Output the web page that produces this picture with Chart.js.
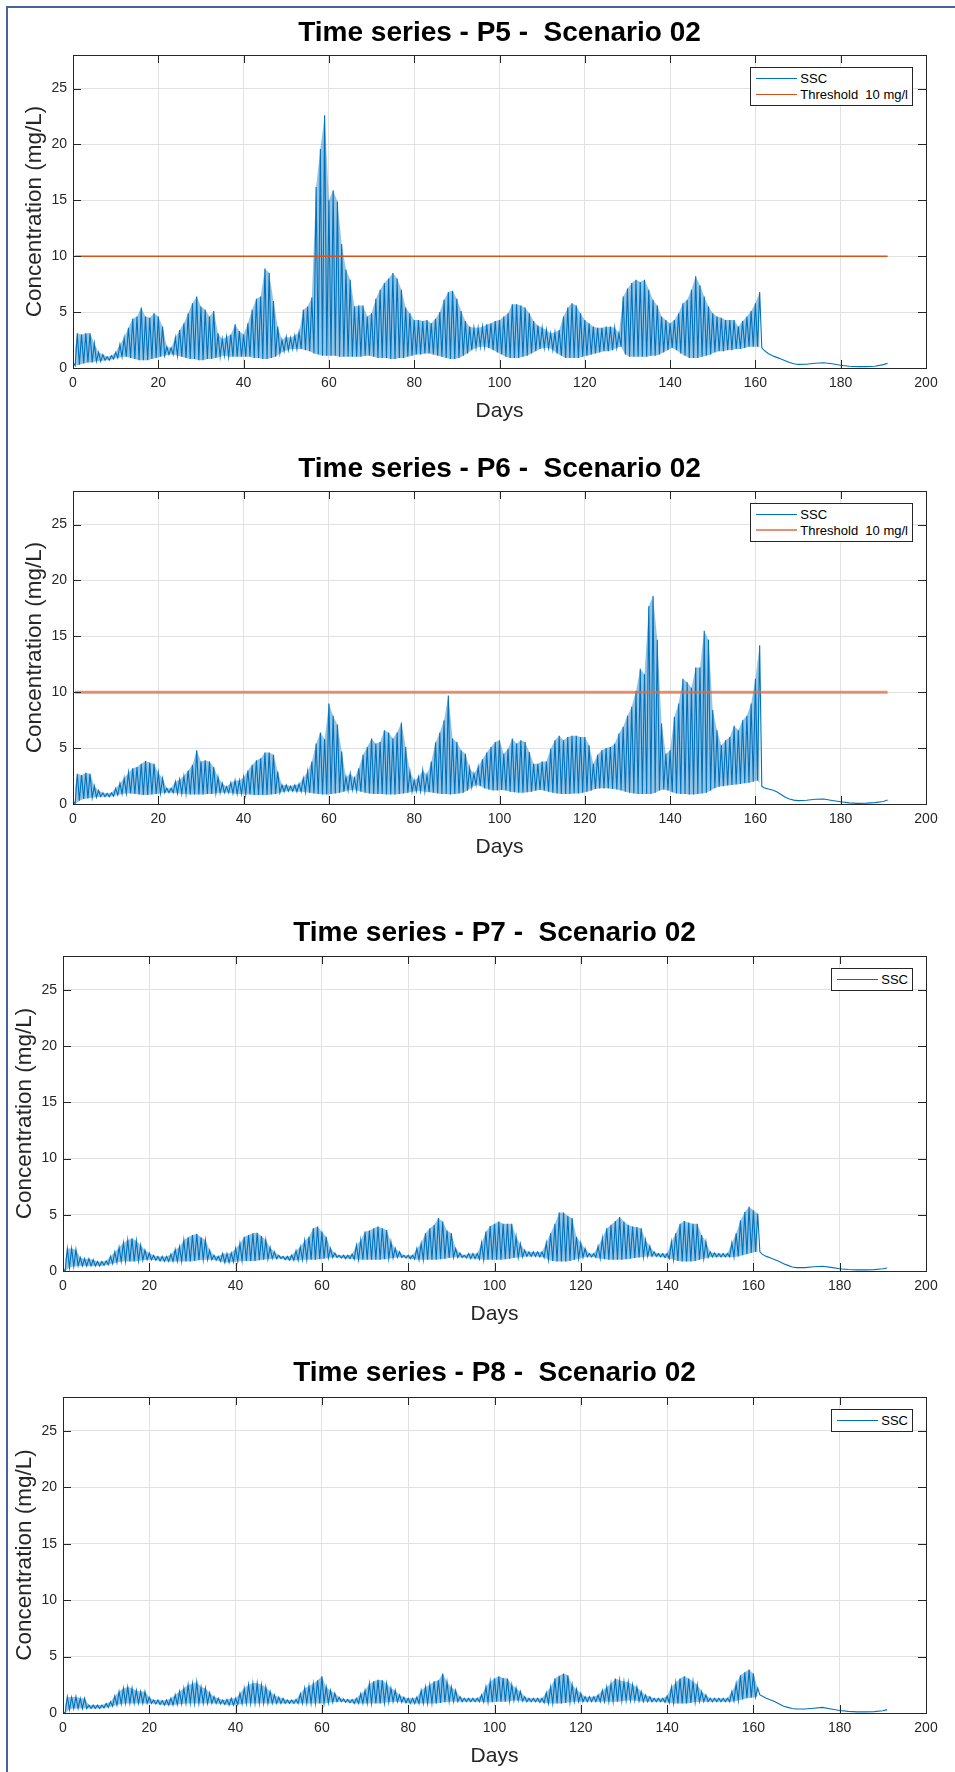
<!DOCTYPE html>
<html>
<head>
  <meta charset="utf-8" />
  <title>Time series - Scenario 02</title>
  <script src="https://cdn.jsdelivr.net/npm/chart.js"></script>
  <style>
    body { margin: 0; background: #fff; font-family: "Liberation Sans", Arial, sans-serif; }
    #page { position: relative; width: 955px; height: 1772px; overflow: hidden; background: #fff; }
    #frame { position: absolute; left: 6px; top: 6px; width: 960px; height: 1780px;
             border-left: 2px solid #4565a0; border-top: 2px solid #4565a0; }
    canvas { position: absolute; left: 0; }
    .legend { position: absolute; background: #fff; border: 1px solid #262626;
              padding: 2px 4px 3px 5px; font-size: 13px; color: #000; }
    .legend .item { display: flex; align-items: center; height: 16px; white-space: pre; }
    .legend .swatch { display: inline-block; width: 41px; height: 0; margin-right: 3px; }
  </style>
</head>
<body>
<div id="page">
  <div id="frame"></div>
  <canvas id="c5" width="955" height="440"></canvas>
  <canvas id="c6" width="955" height="440"></canvas>
  <canvas id="c7" width="955" height="440"></canvas>
  <canvas id="c8" width="955" height="432"></canvas>
</div>

<script>
// axis ticks
const xTicks = [0, 20, 40, 60, 80, 100, 120, 140, 160, 180, 200];
const yTicks = [0, 5, 10, 15, 20, 25];

// threshold line
const thrDays = [0.5, 191];
const thrLevel = 10;

// daily upper (hi) and lower (lo) envelope of the tidal SSC signal, days 0..161
// after day 161 the signal is smooth, sampled at tailDays
const tailDays = [162, 163, 164, 165, 166, 167, 168, 169, 170, 172, 174, 176, 178, 180, 182, 184, 186, 188, 190, 191];

const p5Hi = [
  0.5,3.1,3.0,3.1,3.1,2.2,1.4,1.2,1.0,1.1,
  1.4,2.1,2.7,3.6,4.4,4.6,5.4,4.6,4.5,4.9,
  4.6,3.7,1.9,1.8,2.7,3.4,4.0,4.9,5.8,6.4,
  5.5,5.2,4.6,5.1,3.1,2.6,2.8,3.0,3.9,3.3,
  3.0,4.0,5.2,6.2,6.4,8.9,8.5,6.0,3.7,2.5,
  2.8,2.7,2.9,3.2,5.2,5.5,6.3,16.2,19.6,22.6,
  15.0,15.9,14.9,11.1,8.8,7.9,5.5,5.6,5.6,4.6,
  4.9,6.2,7.0,7.6,8.0,8.5,8.0,7.0,5.4,4.9,
  4.3,4.3,4.2,4.3,4.0,4.4,5.0,6.1,6.8,6.9,
  6.2,5.1,4.2,3.7,3.6,3.6,3.7,3.9,4.0,4.2,
  4.3,4.6,4.9,5.7,5.7,5.6,5.4,4.9,4.2,3.8,
  3.6,3.4,3.1,3.2,3.4,4.6,5.4,5.8,5.6,4.9,
  4.3,4.0,3.7,3.6,3.6,3.7,3.7,3.6,3.1,6.4,
  7.1,7.6,7.9,7.7,7.9,7.0,6.1,5.6,4.6,4.3,
  4.0,4.3,4.9,5.8,6.1,7.0,8.2,7.4,6.4,5.5,
  4.9,4.6,4.5,4.3,4.3,4.3,3.7,4.2,4.6,5.1,
  5.8,6.8
];
const p5Lo = [
  0.2,0.3,0.4,0.5,0.5,0.6,0.6,0.7,0.7,0.8,
  0.9,1.0,1.0,0.9,0.8,0.7,0.7,0.7,0.8,0.9,
  1.0,1.1,1.2,1.2,1.1,1.0,0.9,0.8,0.8,0.7,
  0.7,0.8,0.8,0.9,1.0,1.1,1.0,1.0,1.0,1.0,
  1.0,1.0,0.9,0.9,0.8,0.8,0.9,1.0,1.3,1.5,
  1.6,1.7,1.7,1.7,1.6,1.5,1.3,1.2,1.1,1.1,
  1.1,1.1,1.0,1.0,1.0,1.0,1.0,1.0,1.1,1.1,
  1.0,0.9,0.9,0.9,0.8,0.8,0.9,0.9,1.0,1.1,
  1.2,1.2,1.3,1.3,1.2,1.1,1.0,0.9,0.8,0.8,
  0.9,1.1,1.3,1.6,1.8,1.9,1.9,1.8,1.6,1.4,
  1.2,1.0,0.9,0.9,0.9,1.0,1.1,1.3,1.5,1.7,
  1.8,1.8,1.6,1.3,1.1,0.9,0.9,0.9,0.9,1.0,
  1.1,1.2,1.3,1.4,1.5,1.5,1.6,1.8,1.9,1.2,
  1.0,1.0,1.0,1.0,1.0,1.1,1.1,1.2,1.4,1.6,
  1.8,1.6,1.3,1.1,0.9,0.9,0.9,1.0,1.1,1.2,
  1.4,1.5,1.5,1.6,1.6,1.7,1.7,1.8,1.9,1.9,
  1.9,1.8
];
const p5Tail = [1.6,1.3,1.1,0.95,0.8,0.65,0.5,0.38,0.32,0.33,0.42,0.47,0.38,0.25,0.16,0.12,0.12,0.15,0.3,0.42];

const p6Hi = [
  0.3,2.7,2.6,2.8,2.7,1.6,1.2,1.0,0.95,1.0,
  1.4,1.85,2.3,2.8,3.2,3.3,3.6,3.85,3.7,3.6,
  2.8,2.3,1.4,1.4,2.0,2.2,2.5,3.0,3.5,4.8,
  3.8,3.9,3.8,3.3,2.4,1.85,1.55,1.9,2.1,2.1,
  2.4,3.0,3.5,3.9,4.1,4.6,4.6,4.4,2.9,1.7,
  1.7,1.6,1.7,1.8,2.3,2.9,3.8,5.4,6.4,5.8,
  9.0,7.9,7.1,4.7,2.4,2.7,2.3,3.2,4.4,5.1,
  5.85,5.4,5.55,6.6,6.4,5.85,6.4,7.3,5.1,2.9,
  2.1,2.4,3.0,2.6,3.8,5.5,6.4,7.5,9.7,5.85,
  5.55,4.8,4.5,3.2,2.7,3.3,4.0,4.6,5.1,5.55,
  5.7,4.5,4.95,5.85,5.4,5.7,5.55,4.65,3.6,3.6,
  3.8,3.8,4.95,5.7,6.1,5.7,6.0,6.1,6.1,6.0,
  6.0,5.25,3.6,4.4,4.8,5.0,5.1,5.4,6.3,6.9,
  7.9,8.7,10.1,12.1,11.6,17.7,18.6,14.7,7.2,4.5,
  4.8,7.8,9.0,11.2,10.9,10.4,12.2,12.2,15.5,14.7,
  8.4,6.6,5.25,5.7,6.0,7.0,6.6,7.5,7.9,9.0,
  11.2,14.2
];
const p6Lo = [
  0.0,0.3,0.45,0.5,0.55,0.6,0.65,0.65,0.65,0.7,
  0.8,0.9,0.95,0.95,0.9,0.85,0.8,0.8,0.85,0.9,
  0.95,1.0,1.0,1.0,0.95,0.9,0.9,0.85,0.85,0.85,
  0.85,0.9,0.9,0.95,1.0,1.0,1.0,0.95,0.9,0.9,
  0.85,0.85,0.8,0.8,0.8,0.8,0.85,0.9,1.0,1.1,
  1.15,1.15,1.1,1.1,1.05,1.0,0.95,0.9,0.85,0.85,
  0.9,0.95,1.0,1.1,1.2,1.25,1.2,1.1,1.0,0.95,
  0.9,0.9,0.9,0.85,0.85,0.85,0.9,0.95,1.0,1.1,
  1.15,1.15,1.1,1.05,1.0,0.95,0.9,0.9,0.85,0.9,
  0.95,1.0,1.2,1.5,1.7,1.6,1.4,1.3,1.2,1.2,
  1.25,1.2,1.1,1.05,1.0,1.0,1.05,1.1,1.2,1.25,
  1.2,1.1,1.0,0.95,0.9,0.9,0.9,0.95,0.95,1.0,
  1.1,1.2,1.35,1.4,1.4,1.4,1.35,1.3,1.2,1.1,
  1.0,0.95,0.9,0.9,0.9,0.9,1.0,1.2,1.3,1.2,
  1.05,0.95,0.9,0.9,0.85,0.85,0.9,0.95,1.0,1.2,
  1.4,1.55,1.6,1.65,1.7,1.75,1.8,1.85,1.9,2.0,
  2.1,1.6
];
const p6Tail = [1.45,1.35,1.25,1.1,0.85,0.6,0.45,0.35,0.3,0.33,0.42,0.45,0.32,0.2,0.1,0.06,0.08,0.12,0.22,0.35];

const p7Hi = [
  0.2,2.0,2.0,1.9,1.2,1.1,1.1,1.0,0.85,0.85,
  0.9,1.3,1.7,2.1,2.5,2.75,2.9,2.7,2.3,1.85,
  1.6,1.4,1.3,1.3,1.3,1.5,1.9,2.15,2.75,3.0,
  3.2,3.3,3.0,2.75,1.85,1.4,1.3,1.55,1.55,1.6,
  2.0,2.45,3.05,3.2,3.35,3.4,3.1,2.75,2.1,1.7,
  1.4,1.3,1.3,1.4,1.8,2.15,2.7,3.05,3.8,3.95,
  3.5,3.05,2.0,1.6,1.4,1.4,1.4,1.5,2.3,2.75,
  3.5,3.6,3.8,3.95,3.8,3.65,2.6,2.0,1.7,1.4,
  1.4,1.4,2.0,2.45,3.35,3.8,4.1,4.7,4.4,3.6,
  3.35,2.0,1.6,1.4,1.55,1.55,1.55,2.5,3.5,4.0,
  4.2,4.4,4.2,4.2,4.2,3.05,2.4,1.85,1.7,1.7,
  1.7,1.7,2.5,3.35,4.2,5.2,5.2,4.9,4.7,3.05,
  2.5,2.0,1.55,1.55,2.2,2.9,3.8,4.1,4.45,4.8,
  4.4,4.1,3.95,3.9,3.8,2.75,2.2,1.7,1.55,1.55,
  1.55,2.6,3.35,4.2,4.45,4.3,4.2,4.2,3.2,2.6,
  1.7,1.6,1.55,1.55,1.55,2.5,3.35,4.5,5.25,5.7,
  5.4,5.1
];
const p7Lo = [
  0.0,0.3,0.4,0.45,0.45,0.45,0.45,0.45,0.45,0.5,
  0.55,0.65,0.75,0.85,0.85,0.85,0.85,0.9,0.95,1.0,
  1.0,0.95,0.9,0.85,0.85,0.85,0.85,0.85,0.85,0.85,
  0.9,0.95,1.0,1.0,1.0,0.95,0.85,0.75,0.75,0.8,
  0.85,0.9,0.9,0.9,0.9,0.95,1.0,1.05,1.1,1.1,
  1.1,1.0,0.95,0.95,0.95,1.0,1.0,1.0,1.0,1.05,
  1.1,1.15,1.2,1.2,1.15,1.1,1.1,1.05,1.0,1.0,
  1.0,1.0,1.0,1.0,1.05,1.1,1.15,1.2,1.2,1.15,
  1.1,1.05,1.0,1.0,1.0,1.0,1.0,1.05,1.1,1.15,
  1.2,1.2,1.2,1.15,1.1,1.1,1.05,1.0,1.0,1.0,
  1.0,1.0,1.05,1.1,1.15,1.2,1.25,1.3,1.3,1.3,
  1.25,1.2,1.0,0.9,0.85,0.85,0.85,0.9,1.0,1.1,
  1.2,1.25,1.25,1.2,1.1,1.05,1.0,1.0,1.0,1.0,
  1.05,1.1,1.15,1.2,1.25,1.3,1.3,1.3,1.25,1.2,
  1.1,1.0,0.9,0.85,0.85,0.85,0.9,1.0,1.1,1.2,
  1.25,1.25,1.25,1.25,1.25,1.25,1.3,1.4,1.5,1.6,
  1.7,1.7
];
const p7Tail = [1.5,1.3,1.15,1.0,0.85,0.65,0.5,0.35,0.3,0.3,0.38,0.42,0.32,0.2,0.14,0.1,0.1,0.12,0.2,0.27];

const p8Hi = [
  0.1,1.45,1.4,1.45,1.3,1.3,0.7,0.7,0.7,0.7,
  0.85,1.0,1.5,1.9,2.2,2.3,2.2,2.0,1.9,1.9,
  1.4,1.15,1.15,1.1,1.15,1.3,1.6,1.9,2.2,2.5,
  2.6,2.75,2.3,2.2,1.8,1.45,1.3,1.15,1.2,1.3,
  1.3,1.75,2.2,2.5,2.65,2.65,2.5,2.3,1.9,1.6,
  1.4,1.3,1.15,1.15,1.2,1.7,2.2,2.4,2.6,2.9,
  3.25,2.3,2.0,1.75,1.4,1.25,1.2,1.2,1.3,1.7,
  2.0,2.6,2.8,2.95,2.9,2.6,2.2,2.0,1.6,1.4,
  1.3,1.3,1.4,2.0,2.3,2.5,2.8,2.9,3.5,2.75,
  2.3,2.0,1.45,1.3,1.3,1.3,1.3,1.6,2.3,2.8,
  3.05,3.25,3.1,3.05,2.5,2.2,1.9,1.45,1.3,1.3,
  1.3,1.3,1.8,2.3,3.05,3.3,3.5,3.35,2.5,2.1,
  1.75,1.45,1.45,1.45,1.6,2.0,2.3,2.6,3.05,2.9,
  2.8,2.75,2.5,2.3,1.9,1.6,1.45,1.3,1.3,1.3,
  1.5,2.3,2.7,3.05,3.25,3.05,2.8,2.5,1.9,1.6,
  1.3,1.3,1.3,1.3,1.3,1.9,2.6,3.35,3.6,3.85,
  3.5,2.2
];
const p8Lo = [
  0.0,0.3,0.4,0.4,0.4,0.4,0.4,0.4,0.4,0.45,
  0.5,0.6,0.7,0.8,0.85,0.85,0.85,0.85,0.85,0.85,
  0.85,0.8,0.75,0.7,0.7,0.7,0.75,0.8,0.85,0.85,
  0.85,0.85,0.85,0.85,0.85,0.85,0.8,0.75,0.7,0.7,
  0.75,0.8,0.85,0.85,0.85,0.85,0.85,0.85,0.85,0.85,
  0.85,0.85,0.85,0.85,0.85,0.85,0.85,0.85,0.85,0.85,
  0.85,0.9,0.95,1.0,1.0,0.95,0.9,0.85,0.85,0.85,
  0.85,0.85,0.85,0.85,0.9,0.95,1.0,1.0,0.95,0.9,
  0.85,0.85,0.85,0.85,0.85,0.85,0.85,0.9,0.95,1.0,
  1.0,1.0,1.0,1.0,1.0,1.0,1.0,0.95,0.95,0.95,
  1.0,1.0,1.0,1.05,1.1,1.1,1.05,1.0,1.0,1.0,
  0.95,0.9,0.85,0.85,0.85,0.85,0.9,0.95,1.0,1.0,
  1.0,1.0,1.0,1.0,1.0,1.0,1.0,1.0,1.0,1.05,
  1.1,1.1,1.1,1.05,1.0,1.0,1.0,1.0,1.0,0.95,
  0.9,0.85,0.85,0.85,0.85,0.9,0.95,1.0,1.0,1.0,
  1.0,1.0,1.0,1.0,1.0,1.05,1.1,1.2,1.3,1.35,
  1.4,1.6
];
const p8Tail = [1.5,1.3,1.15,1.0,0.8,0.6,0.5,0.4,0.36,0.35,0.42,0.5,0.36,0.22,0.14,0.1,0.1,0.12,0.2,0.3];

const ssc = '#0072BD';
const sscBand = 'rgba(0,114,189,0.42)';
const axisColor = '#262626';
const gridColor = '#e1e1e1';
Chart.defaults.font.family = '"Liberation Sans", Arial, sans-serif';

const panels = [
  { id: 'c5', title: 'Time series - P5 -  Scenario 02', hi: p5Hi, lo: p5Lo, tail: p5Tail,
    thr: { color: '#D95319', width: 1.5 }, top: 0, height: 440, left: 73, plotTop: 55, plotBottom: 368 },
  { id: 'c6', title: 'Time series - P6 -  Scenario 02', hi: p6Hi, lo: p6Lo, tail: p6Tail,
    thr: { color: 'rgba(222,110,70,0.75)', width: 3 }, top: 436, height: 440, left: 73, plotTop: 55, plotBottom: 368 },
  { id: 'c7', title: 'Time series - P7 -  Scenario 02', hi: p7Hi, lo: p7Lo, tail: p7Tail,
    thr: null, top: 900, height: 440, left: 63, plotTop: 56, plotBottom: 371 },
  { id: 'c8', title: 'Time series - P8 -  Scenario 02', hi: p8Hi, lo: p8Lo, tail: p8Tail,
    thr: null, top: 1340, height: 432, left: 63, plotTop: 57, plotBottom: 373 }
];

// zigzag through the daily extremes, then the smooth tail
function buildSeries(hi, lo, tail) {
  const pts = [];
  hi.forEach((v, d) => {
    pts.push({ x: d, y: v });
    pts.push({ x: d + 0.5, y: lo[d] });
  });
  tail.forEach((v, i) => pts.push({ x: tailDays[i], y: v }));
  return pts;
}

// box round the axes with inward ticks, like matlab
const boxPlugin = {
  id: 'box',
  afterDraw(chart) {
    const { ctx, chartArea: a, scales: { x, y } } = chart;
    const len = 8;
    ctx.save();
    ctx.strokeStyle = axisColor;
    ctx.lineWidth = 1;
    ctx.beginPath();
    x.ticks.forEach(t => {
      const px = Math.round(x.getPixelForValue(t.value)) + 0.5;
      ctx.moveTo(px, a.bottom); ctx.lineTo(px, a.bottom - len);
      ctx.moveTo(px, a.top); ctx.lineTo(px, a.top + len);
    });
    y.ticks.forEach(t => {
      const py = Math.round(y.getPixelForValue(t.value)) + 0.5;
      ctx.moveTo(a.left, py); ctx.lineTo(a.left + len, py);
      ctx.moveTo(a.right, py); ctx.lineTo(a.right - len, py);
    });
    ctx.stroke();
    ctx.strokeRect(Math.round(a.left) + 0.5, Math.round(a.top) + 0.5,
                   Math.round(a.right - a.left), Math.round(a.bottom - a.top));
    ctx.restore();
  }
};

function addLegend(chart, p) {
  const a = chart.chartArea;
  const box = document.createElement('div');
  box.className = 'legend';
  box.style.top = (p.top + a.top + 12) + 'px';
  box.style.right = (955 - a.right + 13) + 'px';
  chart.data.datasets.filter(ds => !ds.noLegend).forEach(ds => {
    const row = document.createElement('div');
    row.className = 'item';
    const sw = document.createElement('span');
    sw.className = 'swatch';
    sw.style.borderTop = `${ds.borderWidth > 2 ? 2 : 1}px solid ${ds.borderColor}`;
    const txt = document.createElement('span');
    txt.textContent = ds.label;
    row.appendChild(sw);
    row.appendChild(txt);
    box.appendChild(row);
  });
  document.getElementById('page').appendChild(box);
}

panels.forEach(p => {
  const canvas = document.getElementById(p.id);
  canvas.style.top = p.top + 'px';

  const datasets = [{
    label: 'SSC',
    data: buildSeries(p.hi, p.lo, p.tail),
    borderColor: ssc,
    borderWidth: 1.1,
    pointRadius: 0,
    tension: 0,
    order: 1
  }, {
    // lower envelope, only used as the floor of the band
    label: 'low',
    noLegend: true,
    data: p.lo.map((v, d) => ({ x: d + 0.5, y: v })),
    borderWidth: 0,
    pointRadius: 0,
    fill: false,
    order: 3
  }, {
    // band between the daily extremes
    label: 'band',
    noLegend: true,
    data: p.hi.map((v, d) => ({ x: d, y: v })),
    borderWidth: 0,
    pointRadius: 0,
    backgroundColor: sscBand,
    fill: 1,
    order: 2
  }];
  if (p.thr) {
    datasets.push({
      label: 'Threshold  10 mg/l',
      data: thrDays.map(d => ({ x: d, y: thrLevel })),
      borderColor: p.thr.color,
      borderWidth: p.thr.width,
      pointRadius: 0,
      order: 0
    });
  }

  const xAxisH = 60;
  const chart = new Chart(canvas, {
    type: 'line',
    data: { datasets },
    options: {
      responsive: false,
      animation: false,
      layout: { padding: { left: 0, right: 955 - 926, top: 0, bottom: p.height - p.plotBottom - xAxisH } },
      plugins: {
        legend: { display: false },
        tooltip: { enabled: false },
        title: {
          display: true,
          text: p.title,
          fullSize: false,
          color: '#000',
          font: { size: 28, weight: 'bold' },
          padding: { top: 33 - 16.8, bottom: p.plotTop - 33 - 16.8 }
        }
      },
      scales: {
        x: {
          type: 'linear',
          min: 0,
          max: 200,
          afterBuildTicks: s => { s.ticks = xTicks.map(v => ({ value: v })); },
          afterFit: s => { s.height = xAxisH; },
          grid: { color: gridColor, drawTicks: false },
          border: { display: false },
          ticks: { padding: 7, color: axisColor, font: { size: 14 }, maxRotation: 0, autoSkip: false },
          title: { display: true, text: 'Days', color: axisColor, font: { size: 21 },
                   padding: { top: 0, bottom: xAxisH - 43 - 12.6 } }
        },
        y: {
          min: 0,
          max: 28,
          afterBuildTicks: s => { s.ticks = yTicks.map(v => ({ value: v })); },
          afterFit: s => { s.width = p.left; },
          grid: { color: gridColor, drawTicks: false },
          border: { display: false },
          ticks: { padding: 6, color: axisColor, font: { size: 14 } },
          title: { display: true, text: 'Concentration (mg/L)', color: axisColor, font: { size: 22.5 },
                   padding: { top: p.left - 38 - 13.5, bottom: 0 } }
        }
      }
    },
    plugins: [boxPlugin]
  });
  addLegend(chart, p);
});
</script>
</body>
</html>
